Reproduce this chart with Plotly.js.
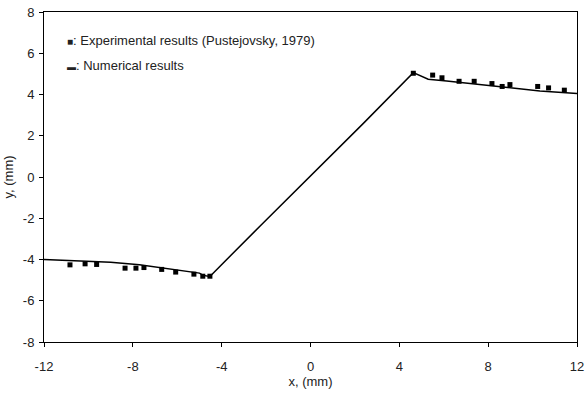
<!DOCTYPE html>
<html>
<head>
<meta charset="utf-8">
<script src="https://cdn.plot.ly/plotly-3.0.1.min.js"></script>
<style>html,body{margin:0;padding:0;background:#fff;}#chart{width:585px;height:401px;}</style>
</head>
<body>
<div id="chart"></div>
<script>
// Experimental results (Pustejovsky, 1979)
const expX = [-10.83, -10.15, -9.63, -8.35, -7.86, -7.50, -6.70, -6.07, -5.25, -4.85, -4.53,
              4.63, 5.50, 5.92, 6.69, 7.37, 8.17, 8.63, 8.98, 10.23, 10.72, 11.43];
const expY = [-4.26, -4.21, -4.24, -4.42, -4.42, -4.39, -4.48, -4.61, -4.71, -4.81, -4.81,
              5.03, 4.94, 4.81, 4.64, 4.64, 4.53, 4.39, 4.48, 4.39, 4.32, 4.21];
// Numerical results
const numX = [-12, -9.0, -7.7, -6.3, -5.0, -4.83, -4.53, -2.2, 0, 2.38, 4.63, 5.3, 6.13, 8.23, 10.33, 12];
const numY = [-4.0, -4.13, -4.26, -4.45, -4.66, -4.77, -4.82, -2.3, 0.05, 2.6, 5.06, 4.74, 4.66, 4.42, 4.17, 4.05];
const xTicks = [-12, -8, -4, 0, 4, 8, 12];
const yTicks = [-8, -6, -4, -2, 0, 2, 4, 6, 8];

const font = {family: 'Liberation Sans, Arial, sans-serif', size: 13, color: '#222'};

Plotly.newPlot('chart', [
  {x: numX, y: numY, mode: 'lines', line: {color: '#000', width: 1.5}, showlegend: false, hoverinfo: 'skip'},
  {x: expX, y: expY, mode: 'markers', marker: {symbol: 'square', size: 5, color: '#000'}, showlegend: false}
], {
  width: 585, height: 401,
  margin: {l: 44, r: 8, t: 12, b: 59},
  paper_bgcolor: '#fff', plot_bgcolor: '#fff',
  font: font,
  xaxis: {
    range: [-12, 12], tickvals: xTicks, ticktext: xTicks.map(String),
    showgrid: false, zeroline: false, showline: true, linecolor: '#000', linewidth: 1,
    mirror: true, ticks: 'outside', ticklen: 4, tickcolor: '#000',
    ticklabelstandoff: 8, ticklabeloverflow: 'allow',
    title: {text: 'x, (mm)', font: font, standoff: 4}
  },
  yaxis: {
    range: [-8, 8], tickvals: yTicks, ticktext: yTicks.map(String),
    showgrid: false, zeroline: false, showline: true, linecolor: '#000', linewidth: 1,
    mirror: true, ticks: 'outside', ticklen: 4, tickcolor: '#000',
    ticklabelstandoff: 2,
    title: {text: 'y, (mm)', font: font, standoff: 6}
  },
  annotations: [
    {xref: 'paper', yref: 'paper', x: 0.04, y: 0.915, xanchor: 'left', yanchor: 'middle',
     text: '<span style="font-size:10px">\u25A0</span>: Experimental results (Pustejovsky, 1979)', showarrow: false, font: font},
    {xref: 'paper', yref: 'paper', x: 0.04, y: 0.838, xanchor: 'left', yanchor: 'middle',
     text: '<span style="font-size:9px">\u25AC</span>: Numerical results', showarrow: false, font: font}
  ]
}, {displayModeBar: false, staticPlot: true});
</script>
</body>
</html>
